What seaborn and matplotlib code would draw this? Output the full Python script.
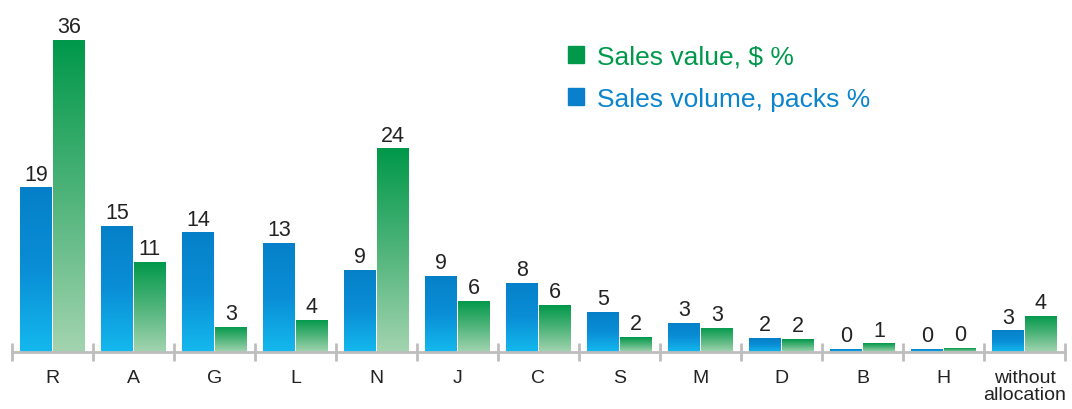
import numpy as np
import pandas as pd
import matplotlib
matplotlib.use("Agg")
import matplotlib.pyplot as plt
from matplotlib.colors import LinearSegmentedColormap
from matplotlib.patches import Patch
import seaborn as sns

# Data
categories = ["R", "A", "G", "L", "N", "J", "C", "S", "M", "D", "B", "H", "without\nallocation"]
volume = [19.0, 14.6, 13.8, 12.6, 9.5, 8.8, 8.0, 4.6, 3.4, 1.6, 0.35, 0.35, 2.5]
value = [36.0, 10.4, 2.9, 3.7, 23.5, 5.9, 5.4, 1.7, 2.8, 1.5, 1.0, 0.45, 4.2]
volume_labels = ["19", "15", "14", "13", "9", "9", "8", "5", "3", "2", "0", "0", "3"]
value_labels = ["36", "11", "3", "4", "24", "6", "6", "2", "3", "2", "1", "0", "4"]

VOL_NAME = "Sales volume, packs %"
VAL_NAME = "Sales value, $ %"

df = pd.DataFrame({
    "cat": categories * 2,
    "pct": volume + value,
    "series": [VOL_NAME] * len(categories) + [VAL_NAME] * len(categories),
})

sns.set_style("white")
plt.rcParams["font.family"] = ["Liberation Sans", "DejaVu Sans"]

fig = plt.figure(figsize=(10.72, 4.10), dpi=100)
ax = fig.add_axes([12 / 1072, 1 - 353 / 410, 1053 / 1072, 353 / 410])

sns.barplot(data=df, x="cat", y="pct", hue="series", hue_order=[VOL_NAME, VAL_NAME],
            order=categories, width=0.81, gap=0.03, legend=False, ax=ax,
            palette=["#0a84cc", "#00994c"], saturation=1, edgecolor="none")

# gradient fills clipped to each bar
blue_cmap = LinearSegmentedColormap.from_list("b", ["#14b9ee", "#0a8ed6", "#0580c8"])
green_cmap = LinearSegmentedColormap.from_list("g", ["#a3d4b0", "#4fb47a", "#00984a"])
grad = np.linspace(0, 1, 256).reshape(-1, 1)
for container, cmap in zip(ax.containers, [blue_cmap, green_cmap]):
    for bar in container:
        x0, y0 = bar.get_x(), bar.get_y()
        w, h = bar.get_width(), bar.get_height()
        bar.set_facecolor("none")
        im = ax.imshow(grad, cmap=cmap, origin="lower", aspect="auto",
                       extent=(x0, x0 + w, y0, y0 + h), zorder=2)
        im.set_clip_path(bar)

ax.bar_label(ax.containers[0], labels=volume_labels, padding=2, fontsize=15.5, color="#222222")
ax.bar_label(ax.containers[1], labels=value_labels, padding=2, fontsize=15.5, color="#222222")
ax.set_xlim(-0.5, len(categories) - 0.5)
ax.set_ylim(0, 40.75)

# axis styling
sns.despine(ax=ax, left=True, top=True, right=True)
ax.spines["bottom"].set_color("#bdbdbd")
ax.spines["bottom"].set_linewidth(2)
ax.set_yticks([])
ax.set_xlabel("")
ax.set_ylabel("")
ax.set_xticks(range(len(categories)))
ax.set_xticklabels(categories, linespacing=1.05)
ax.set_xticks(np.arange(-0.5, len(categories), 1.0), minor=True)
ax.tick_params(axis="x", which="minor", bottom=True, direction="inout", length=13, width=2,
               color="#bdbdbd")
ax.tick_params(axis="x", which="major", bottom=True, length=0, pad=12, labelsize=14,
               labelcolor="#222222")

handles = [Patch(color="#00994c"), Patch(color="#0a7fcc")]
fig.legend(handles, [VAL_NAME, VOL_NAME], loc="upper left", bbox_to_anchor=(544 / 1072, 1 - 22 / 410),
           frameon=False, fontsize=19, labelcolor=["#00994c", "#0a84cc"], handlelength=0.62,
           handleheight=0.62, handletextpad=0.5, labelspacing=0.7)

fig.savefig("out.png", dpi=100)
